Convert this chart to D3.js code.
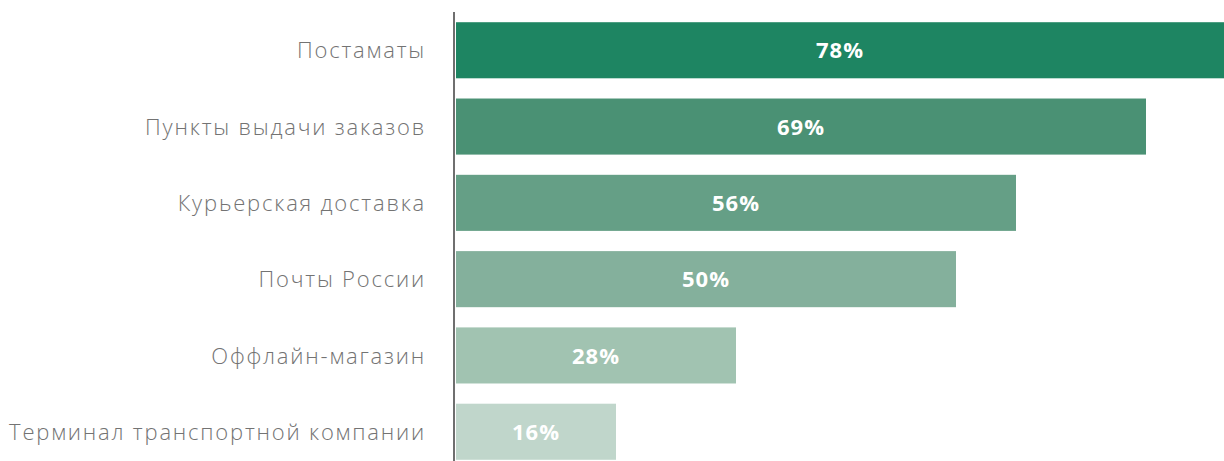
<!DOCTYPE html>
<html>
<head>
<meta charset="utf-8">
<script src="https://cdn.jsdelivr.net/npm/d3@7"></script>
<style>
  html, body { margin: 0; padding: 0; background: #ffffff; }
  svg { display: block; }
</style>
</head>
<body>
<svg id="chart" width="1224" height="461"></svg>
<script>
// Способы получения заказов, доля респондентов (%)
const categories = [
  "Постаматы",
  "Пункты выдачи заказов",
  "Курьерская доставка",
  "Почты России",
  "Оффлайн-магазин",
  "Терминал транспортной компании"
];
const values = [78, 69, 56, 50, 28, 16];
const barColors = ["#1e8562", "#4a9174", "#659f86", "#84b09c", "#a1c3b1", "#c0d6cb"];

const W = 1224, H = 461;
const svg = d3.select("#chart");

const x = d3.scaleLinear().domain([0, 100]).range([456, 1456]);
const y = d3.scaleBand().domain(categories).range([2, 480])
  .paddingInner(0.265).paddingOuter(0.265);

const rows = categories.map((c, i) => ({ c, v: values[i], color: barColors[i] }));

// bars
svg.append("g").selectAll("rect").data(rows).join("rect")
  .attr("x", x(0))
  .attr("y", d => y(d.c))
  .attr("width", d => x(d.v) - x(0))
  .attr("height", y.bandwidth())
  .attr("fill", d => d.color);

// value labels, centred in the visible part of each bar
svg.append("g").selectAll("text").data(rows).join("text")
  .attr("x", d => (x(0) + Math.min(x(d.v), W)) / 2)
  .attr("y", d => y(d.c) + y.bandwidth() / 2)
  .attr("dy", "0.37em")
  .attr("text-anchor", "middle")
  .attr("fill", "#ffffff")
  .style("font-family", "'Open Sans', sans-serif")
  .style("font-weight", 700)
  .style("font-size", "22px")
  .style("letter-spacing", "1px")
  .text(d => d.v + "%");

// category axis
const axis = svg.append("g")
  .attr("transform", `translate(${x(0) - 2},0)`)
  .call(d3.axisLeft(y).tickSize(0).tickPadding(28));
axis.select(".domain").remove();
axis.append("line")
  .attr("x1", 0).attr("x2", 0)
  .attr("y1", 12).attr("y2", H)
  .attr("stroke", "#6f6f6f")
  .attr("stroke-width", 2);
axis.selectAll(".tick text")
  .attr("fill", "#737373")
  .attr("dy", "0.37em")
  .style("font-family", "'Open Sans', sans-serif")
  .style("font-weight", 300)
  .style("font-size", "22px")
  .style("letter-spacing", "1.8px");
</script>
</body>
</html>
